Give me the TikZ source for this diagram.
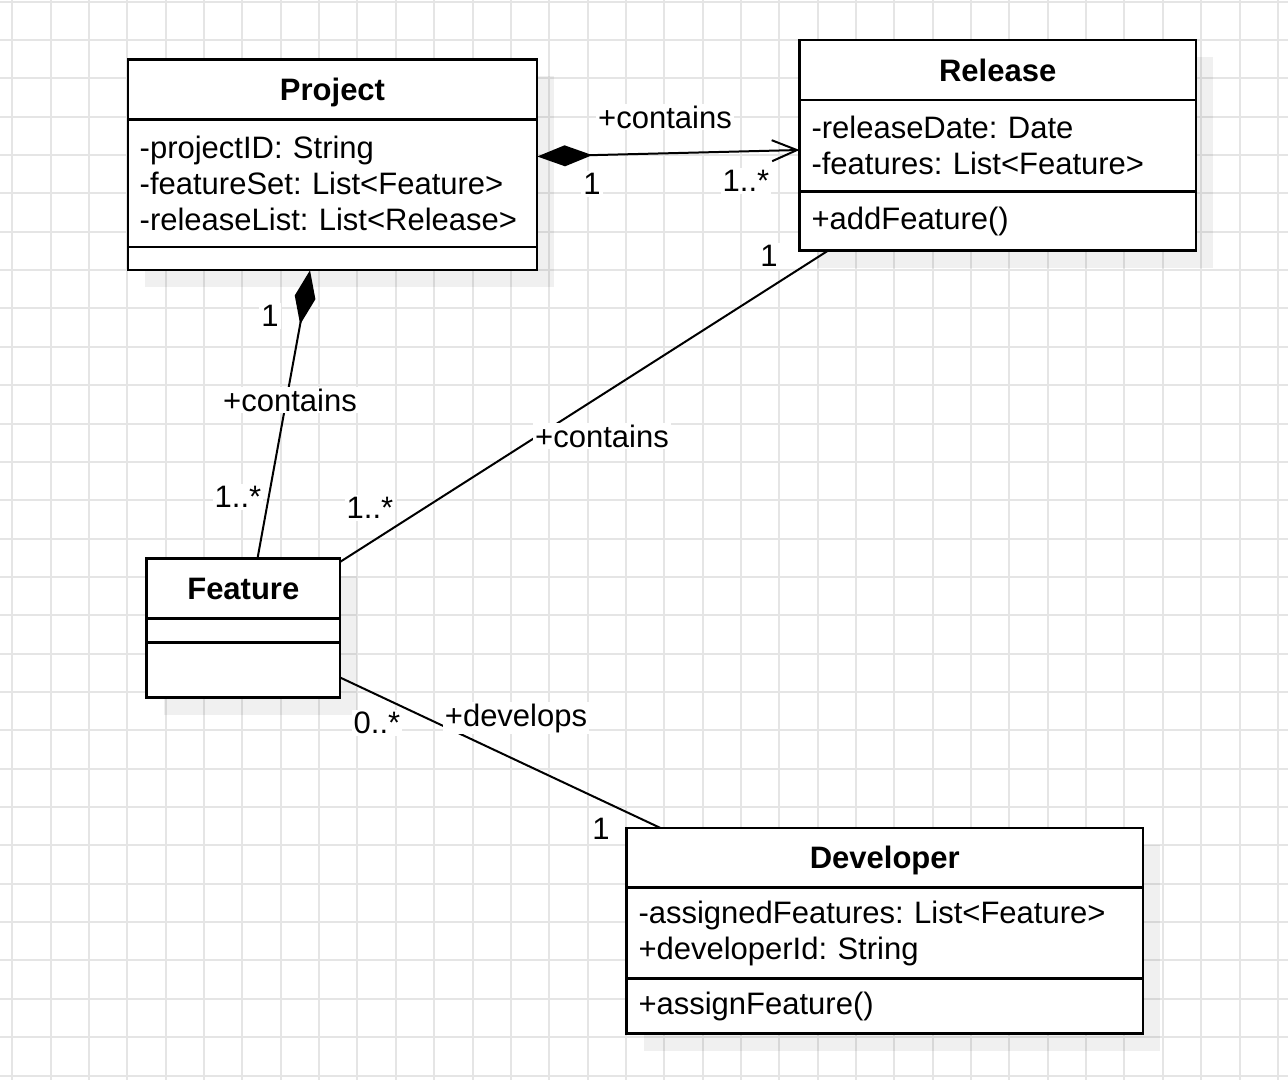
\documentclass[tikz,border=0pt]{standalone}
\usepackage{fontspec}
\setmainfont{Liberation Sans}
\usetikzlibrary{positioning,arrows.meta,shadows}

\definecolor{gridgray}{RGB}{229,229,229}
\newcommand{\classfont}{\fontsize{15.5}{18}\selectfont\frenchspacing}

\tikzset{
  gridline/.style={draw=gridgray, line width=1pt},
  umlbox/.style={draw, fill=white, line width=1.1pt, outer sep=0pt,
    inner xsep=6pt, inner ysep=0pt,
    drop shadow={shadow xshift=8.5pt, shadow yshift=-8.5pt, fill=black, opacity=0.06}},
  umlhead/.style={umlbox, text width=#1, align=center, minimum height=30pt,
    text height=11.1pt, text depth=0pt, font=\classfont\bfseries},
  umlbody/.style={umlbox, text width=#1, align=left, font=\classfont},
  assoc/.style={draw, line width=1pt},
  mult/.style={fill=white, inner sep=1pt, font=\classfont}
}

\begin{document}
\begin{tikzpicture}[x=0.5pt, y=-0.5pt]
    \useasboundingbox (0,0) rectangle (1288,1080);

    % Background grid
    \foreach \k in {0,...,33}
        \draw[gridline] ({12.3+38.35*\k},0) -- ({12.3+38.35*\k},1080);
    \foreach \k in {0,...,28}
        \draw[gridline] (0,{1.7+38.35*\k}) -- (1288,{1.7+38.35*\k});

    % Project class
    \node[umlhead=192.8pt, anchor=north west] (projhead) at (127.7,59.5) {Project};
    \node[umlbody=192.8pt, minimum height=63.7pt, below=0pt of projhead] (projattr)
        {-projectID: String\\-featureSet: List<Feature>\\-releaseList: List<Release>};
    \node[umlbody=192.8pt, minimum height=11.7pt, below=0pt of projattr] (projops) {};

    % Release class
    \node[umlhead=186.2pt, anchor=north west] (relhead) at (799.5,40) {Release};
    \node[umlbody=186.2pt, minimum height=45.8pt, below=0pt of relhead] (relattr)
        {-releaseDate: Date\\-features: List<Feature>};
    \node[umlbody=186.2pt, minimum height=29.5pt, below=0pt of relattr] (relops)
        {+addFeature()};

    % Feature class
    \node[umlhead=84.8pt, anchor=north west] (feathead) at (146.5,558.5) {Feature};
    \node[umlbody=84.8pt, minimum height=12pt, below=0pt of feathead] (featattr) {};
    \node[umlbody=84.8pt, minimum height=27.5pt, below=0pt of featattr] (featops) {};

    % Developer class
    \node[umlhead=246.25pt, minimum height=29.75pt, anchor=north west] (devhead) at (626.5,828) {Developer};
    \node[umlbody=246.25pt, minimum height=45.5pt, below=0pt of devhead] (devattr)
        {-assignedFeatures: List<Feature>\\+developerId: String};
    \node[umlbody=246.25pt, minimum height=27.5pt, below=0pt of devattr] (devops)
        {+assignFeature()};

    % Project -- Release
    \draw[assoc, {Diamond[length=27.5pt, width=10.5pt]}-{Straight Barb[length=12.5pt, width=10.5pt]}]
        ([yshift=-18.5pt]projattr.north east) -- ([yshift=-25pt]relattr.north west);
    \node[mult] (projrelname) at (665,117) {+contains};
    \node[mult] (projrelsrc) at (592,184) {1};
    \node[mult] (projreldst) at (746,181) {1..*};

    % Project -- Feature
    \draw[assoc, {Diamond[length=27.5pt, width=10.5pt]}-]
        ([xshift=-11.25pt]projops.south) -- ([xshift=7.1pt]feathead.north);
    \node[mult] (projfeatsrc) at (270,316) {1};
    \node[mult] (projfeatname) at (290,400) {+contains};
    \node[mult] (projfeatdst) at (238,497) {1..*};

    % Release -- Feature
    \draw[assoc] ([xshift=14.3pt]relops.south west) -- ([yshift=-1.7pt]feathead.north east);
    \node[mult] (relfeatsrc) at (769,256) {1};
    \node[mult] (relfeatname) at (602,436) {+contains};
    \node[mult] (relfeatdst) at (370,508) {1..*};

    % Feature -- Developer
    \draw[assoc] ([yshift=10pt]featops.south east) -- ([xshift=17pt]devhead.north west);
    \node[mult] (featdevsrc) at (377,723) {0..*};
    \node[mult] (featdevname) at (516,718) {+develops};
    \node[mult] (featdevdst) at (601,829) {1};
\end{tikzpicture}
\end{document}
